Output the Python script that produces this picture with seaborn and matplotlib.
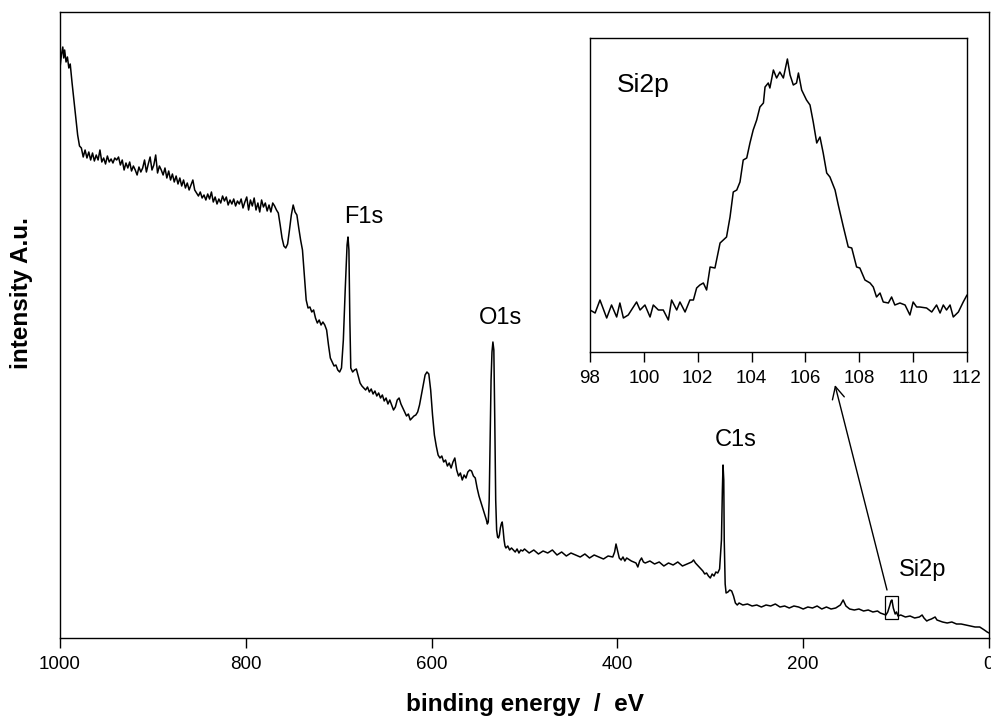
import numpy as np
import matplotlib
matplotlib.use("Agg")
import matplotlib.pyplot as plt
import seaborn as sns

# survey spectrum, binding energy (eV) and intensity (a.u.)
survey_ev = [
    1000, 998.5, 997, 996, 995, 993.5, 992, 990.5, 989, 987,
    985, 983, 981, 979, 977, 975, 973, 971, 969, 967,
    965, 963, 961, 959, 957, 955, 953, 951, 949, 947,
    945, 943, 941, 939, 937, 935, 933, 931, 929, 927,
    925, 923, 921, 919, 917, 915, 913, 911, 909, 907,
    905, 903, 901, 899, 897, 895, 893, 891, 889, 887,
    885, 883, 881, 879, 877, 875, 873, 871, 869, 867,
    865, 863, 861, 859, 857, 855, 853, 851, 849, 847,
    845, 843, 841, 839, 837, 835, 833, 831, 829, 827,
    825, 823, 821, 819, 817, 815, 813, 811, 809, 807,
    805, 803, 801, 799, 797, 795, 793, 791, 789, 787,
    785, 783, 781, 779, 777, 775, 773, 771, 769, 767,
    765, 763, 761, 759, 757, 755, 753, 751, 749, 747,
    745, 743, 741, 739, 737, 735, 733, 731, 729, 727,
    725, 723, 721, 719, 717, 715, 713, 711, 709, 707,
    705, 703, 701, 699, 697, 695, 693, 691, 690, 689,
    688, 687, 685, 683, 681, 679, 677, 675, 673, 671,
    669, 667, 665, 663, 661, 659, 657, 655, 653, 651,
    649, 647, 645, 643, 641, 639, 637, 635, 633, 631,
    629, 627, 625, 623, 621, 619, 617, 615, 613, 611,
    609, 607, 605, 603, 601, 599, 597, 595, 593, 591,
    589, 587, 585, 583, 581, 579, 577, 575, 573, 571,
    569, 567, 565, 563, 561, 559, 557, 555, 553, 551,
    549, 547, 545, 543, 541, 540, 539, 538, 537, 536,
    535, 534, 533, 532, 531, 530, 529, 528, 527, 526,
    525, 524, 523, 522, 521, 520, 518, 516, 514, 512,
    510, 508, 506, 504, 502, 500, 495, 490, 485, 480,
    475, 470, 465, 460, 455, 450, 445, 440, 435, 430,
    425, 420, 415, 410, 405, 403, 401.5, 400, 398, 396,
    394, 392, 390, 385, 380, 378, 376, 374, 372, 370,
    365, 360, 355, 350, 345, 340, 335, 330, 325, 320,
    318, 316, 314, 312, 310, 308, 306, 304, 302, 300,
    298, 296, 294, 292, 290, 288, 287, 286.3, 285.5, 285,
    284, 283, 281, 279, 277, 275, 273, 271, 269, 265,
    260, 255, 250, 245, 240, 235, 230, 225, 220, 215,
    210, 205, 200, 195, 190, 185, 180, 175, 170, 165,
    160, 157, 154, 150, 145, 140, 135, 130, 125, 120,
    117, 114, 111, 109, 107, 105.5, 104.5, 103, 101, 99.5,
    98, 95, 90, 85, 80, 75, 72, 70, 67, 65,
    62, 58, 56, 53, 50, 45, 40, 35, 30, 25,
    20, 15, 10, 5, 2, 0,
]
survey_int = [
    570, 583, 591, 580, 588, 576, 581, 570, 574, 555,
    538, 520, 503, 492, 490, 481, 488, 480, 486, 478,
    485, 477, 483, 478, 488, 476, 480, 474, 482, 476,
    479, 475, 480, 478, 481, 473, 478, 468, 475, 470,
    476, 467, 472, 468, 463, 471, 466, 470, 478, 466,
    474, 481, 468, 473, 483, 465, 472, 468, 463, 470,
    460, 467, 458, 464, 456, 462, 454, 460, 452, 458,
    450, 455, 448, 453, 458, 448, 445, 442, 446, 440,
    443, 438, 444, 439, 446, 436, 441, 434, 439, 435,
    442, 437, 441, 433, 438, 434, 439, 432, 437, 434,
    439, 430, 436, 441, 428, 438, 432, 440, 428, 435,
    426, 438, 431, 435, 427, 433, 426, 435, 432, 428,
    425, 413, 400, 392, 390, 394, 408, 423, 433, 426,
    423, 410, 398, 388, 363, 338, 330, 331, 326, 328,
    320, 315, 318, 313, 316, 313, 308, 293, 280, 276,
    272, 273, 268, 266, 270, 298, 348, 393, 401, 388,
    318, 270, 266, 268, 269, 262, 255, 252, 250, 248,
    251, 246, 249, 244, 247, 242, 245, 240, 243, 237,
    240, 234, 238, 233, 228, 231, 238, 240, 234, 230,
    226, 222, 224, 218, 220, 222, 223, 226, 233, 243,
    253, 263, 266, 264, 248, 223, 203, 192, 183, 180,
    182, 176, 178, 172, 175, 170, 176, 180, 168, 162,
    165, 158, 163, 160, 166, 168, 167, 162, 160, 150,
    142, 136, 130, 124, 118, 114, 116, 138, 198, 258,
    286, 296, 288, 218, 138, 108, 101, 100, 103, 110,
    114, 116, 108, 98, 92, 90, 92, 88, 90, 88,
    86, 89, 85, 88, 87, 89, 85, 88, 84, 87,
    85, 88, 83, 86, 82, 85, 83, 81, 84, 80,
    83, 81, 79, 82, 81, 86, 94, 88, 80, 78,
    81, 77, 80, 77, 75, 71, 77, 80, 76, 75,
    77, 74, 76, 72, 75, 73, 76, 72, 74, 76,
    78, 75, 73, 71, 69, 67, 64, 65, 62, 60,
    64, 62, 66, 65, 69, 98, 148, 173, 158, 98,
    54, 45, 46, 48, 47, 42, 35, 33, 35, 33,
    34, 32, 33, 31, 33, 32, 34, 31, 32, 30,
    32, 31, 29, 31, 30, 32, 29, 31, 29, 30,
    33, 38, 32, 29, 28, 29, 27, 28, 26, 27,
    25, 24, 23, 26, 32, 37, 38, 30, 24, 26,
    22, 23, 21, 22, 20, 21, 23, 20, 17, 18,
    19, 21, 18, 17, 16, 15, 16, 14, 14, 13,
    12, 11, 11, 8, 6, 5,
]

# Si2p detail window (inset)
si2p_ev = [
    98.00, 98.19, 98.37, 98.62, 98.80, 98.99, 99.11, 99.24, 99.42, 99.61,
    99.73, 99.86, 100.04, 100.23, 100.35, 100.54, 100.72, 100.91, 101.03, 101.22,
    101.34, 101.53, 101.71, 101.84, 101.96, 102.08, 102.21, 102.33, 102.46, 102.64,
    102.83, 103.07, 103.20, 103.32, 103.45, 103.57, 103.69, 103.82, 103.94, 104.06,
    104.19, 104.31, 104.44, 104.50, 104.62, 104.68, 104.81, 104.93, 105.05, 105.18,
    105.33, 105.43, 105.55, 105.67, 105.74, 105.86, 106.04, 106.17, 106.29, 106.42,
    106.54, 106.66, 106.79, 106.91, 107.10, 107.22, 107.41, 107.59, 107.72, 107.90,
    108.02, 108.21, 108.40, 108.52, 108.64, 108.77, 108.89, 109.08, 109.20, 109.32,
    109.51, 109.70, 109.88, 110.00, 110.13, 110.25, 110.50, 110.69, 110.87, 111.00,
    111.12, 111.24, 111.37, 111.49, 111.68, 111.86, 112.00,
]
si2p_int = [
    42, 39, 52, 34, 47, 35, 49, 34, 37, 45,
    50, 42, 47, 35, 47, 42, 42, 32, 52, 42,
    50, 40, 52, 52, 64, 67, 69, 62, 85, 84,
    109, 115, 135, 160, 162, 170, 192, 194, 209, 222,
    232, 245, 249, 265, 269, 264, 282, 274, 280, 274,
    293, 277, 267, 269, 279, 262, 252, 247, 230, 209,
    215, 199, 179, 175, 162, 147, 125, 105, 104, 85,
    84, 72, 69, 65, 55, 59, 50, 49, 55, 47,
    49, 47, 37, 50, 45, 45, 44, 40, 47, 39,
    47, 42, 47, 35, 40, 50, 57,
]

peak_labels = ["F1s", "O1s", "C1s", "Si2p"]
label_ev = [672.8, 526.0, 273.0, 72.0]
label_int = [421, 320, 198, 68]

window_ev = (98, 112)
window_int = (19, 42)

sns.set_theme(style="white")
plt.rcParams["font.family"] = ["Liberation Sans", "DejaVu Sans"]
plt.rcParams["text.color"] = "black"
plt.rcParams["axes.labelcolor"] = "black"
plt.rcParams["xtick.color"] = "black"

fig = plt.figure(figsize=(9.91, 7.17), dpi=100)
ax = fig.add_axes([60 / 991, 79 / 717, 929 / 991, 626 / 717])
sns.lineplot(x=survey_ev, y=survey_int, ax=ax, color="black", lw=1.1,
             estimator=None, sort=False)
ax.set_xlim(1000, 0)
ax.set_ylim(0, 626)
ax.set_xticks([1000, 800, 600, 400, 200, 0])
ax.set_yticks([])
ax.tick_params(axis="x", direction="out", length=7, width=1, color="black",
               labelcolor="black", labelsize=13.5, pad=6, bottom=True)
for s in ax.spines.values():
    s.set_color("black")
    s.set_linewidth(1.0)
ax.set_xlabel("binding energy  /  eV", fontsize=17.5, fontweight="bold",
              color="black", labelpad=14)
ax.set_ylabel("intensity A.u.", fontsize=17.5, fontweight="bold", color="black")
ax.yaxis.set_label_coords(-27 / 929, (638 - 293) / 626)

for name, x, y in zip(peak_labels, label_ev, label_int):
    ax.text(x, y, name, fontsize=17, ha="center", va="center", color="black")

ax.add_patch(plt.Rectangle((window_ev[1], window_int[0]), window_ev[0] - window_ev[1],
                           window_int[1] - window_int[0], fill=False,
                           edgecolor="black", lw=0.9))
ax.annotate("", xy=(165.8, 253), xytext=(109.8, 48),
            arrowprops=dict(arrowstyle="->", color="black", lw=1.0,
                            mutation_scale=22, shrinkA=0, shrinkB=0))

ins = fig.add_axes([590 / 991, 365 / 717, 377 / 991, 314 / 717])
sns.lineplot(x=si2p_ev, y=si2p_int, ax=ins, color="black", lw=1.1,
             estimator=None, sort=False)
ins.set_xlim(98, 112)
ins.set_ylim(0, 314)
ins.set_xticks(np.arange(98, 113, 2))
ins.set_yticks([])
ins.tick_params(axis="x", direction="out", length=7, width=1, color="black",
                labelcolor="black", labelsize=13.5, pad=6, bottom=True)
for s in ins.spines.values():
    s.set_color("black")
    s.set_linewidth(1.0)
ins.text(99.0, 267, "Si2p", fontsize=19, ha="left", va="center", color="black")

fig.savefig("out.png", dpi=100)
